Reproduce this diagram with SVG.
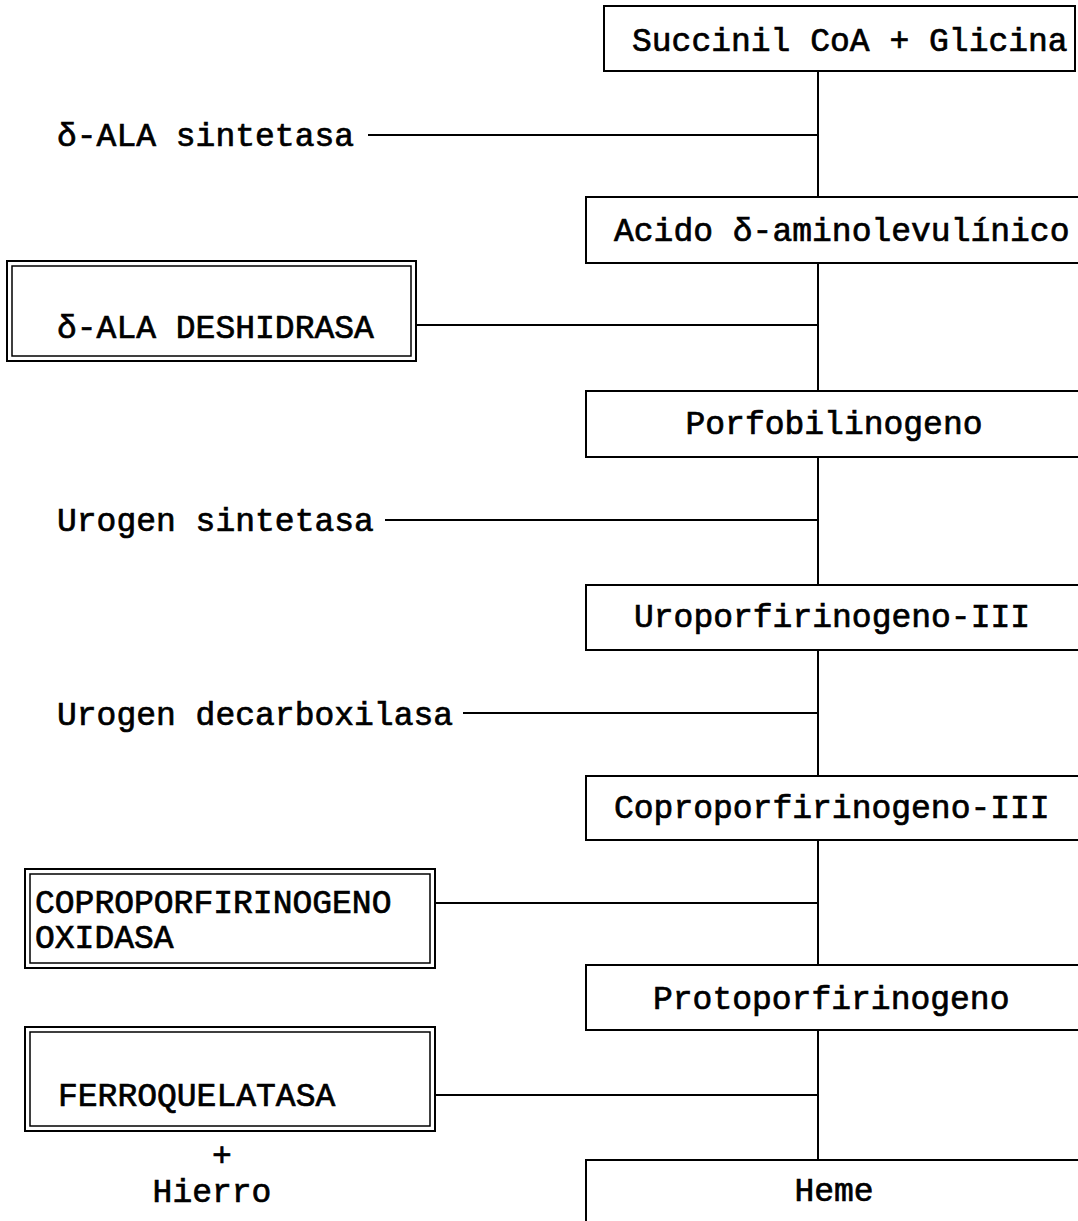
<svg xmlns="http://www.w3.org/2000/svg" width="1078" height="1221" viewBox="0 0 1078 1221">
<style>
text{font-family:"Liberation Mono","Courier New",monospace;font-size:33px;fill:#000;stroke:#000;stroke-width:0.7}
.b{fill:#fff;stroke:#000;stroke-width:2}
.d{fill:none;stroke:#000;stroke-width:2}
.c{stroke:#000;stroke-width:2;fill:none}
</style>
<rect width="1078" height="1221" fill="#fff"/>
<g id="connectors">
<line class="c" x1="818" y1="71" x2="818" y2="197"/>
<line class="c" x1="818" y1="263" x2="818" y2="391"/>
<line class="c" x1="818" y1="457" x2="818" y2="585"/>
<line class="c" x1="818" y1="650" x2="818" y2="776"/>
<line class="c" x1="818" y1="840" x2="818" y2="965"/>
<line class="c" x1="818" y1="1030" x2="818" y2="1160"/>
<line class="c" x1="368" y1="135" x2="818" y2="135"/>
<line class="c" x1="416" y1="325" x2="818" y2="325"/>
<line class="c" x1="385" y1="520" x2="818" y2="520"/>
<line class="c" x1="463" y1="713" x2="818" y2="713"/>
<line class="c" x1="435" y1="903" x2="818" y2="903"/>
<line class="c" x1="435" y1="1095" x2="818" y2="1095"/>
</g>
<g id="n1"><rect class="b" x="604" y="6" width="471" height="65"/><text x="632" y="51">Succinil CoA + Glicina</text></g>
<g id="e1"><text x="57" y="146">δ-ALA sintetasa</text></g>
<g id="n2"><rect class="b" x="586" y="197" width="500" height="66"/><text x="614" y="241">Acido δ-aminolevulínico</text></g>
<g id="e2"><rect class="d" x="7" y="261" width="409" height="100"/><rect class="d" x="12" y="266" width="399" height="90" style="stroke-width:1.5"/><text x="57" y="338">δ-ALA DESHIDRASA</text></g>
<g id="n3"><rect class="b" x="586" y="391" width="500" height="66"/><text x="834" y="434" text-anchor="middle">Porfobilinogeno</text></g>
<g id="e3"><text x="57" y="531">Urogen sintetasa</text></g>
<g id="n4"><rect class="b" x="586" y="585" width="500" height="65"/><text x="634" y="627">Uroporfirinogeno-III</text></g>
<g id="e4"><text x="57" y="725">Urogen decarboxilasa</text></g>
<g id="n5"><rect class="b" x="586" y="776" width="500" height="64"/><text x="614" y="818">Coproporfirinogeno-III</text></g>
<g id="e5"><rect class="d" x="25" y="869" width="410" height="99"/><rect class="d" x="30" y="874" width="400" height="89" style="stroke-width:1.5"/><text x="35" y="913">COPROPORFIRINOGENO</text><text x="35" y="948">OXIDASA</text></g>
<g id="n6"><rect class="b" x="586" y="965" width="500" height="65"/><text x="653" y="1009">Protoporfirinogeno</text></g>
<g id="e6"><rect class="d" x="25" y="1027" width="410" height="104"/><rect class="d" x="30" y="1032" width="400" height="94" style="stroke-width:1.5"/><text x="58" y="1106">FERROQUELATASA</text><text x="222" y="1166" text-anchor="middle">+</text><text x="212" y="1202" text-anchor="middle">Hierro</text></g>
<g id="n7"><rect class="b" x="586" y="1160" width="500" height="80"/><text x="834" y="1201" text-anchor="middle">Heme</text></g>
</svg>
